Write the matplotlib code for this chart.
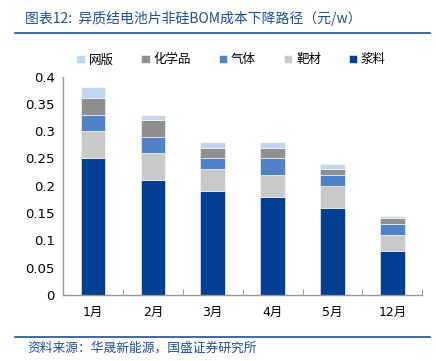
import matplotlib.pyplot as plt
import numpy as np
from matplotlib.lines import Line2D

plt.rcParams['font.family'] = ['DejaVu Sans', 'Noto Sans CJK SC']

months = ["1月", "2月", "3月", "4月", "5月", "12月"]
slurry = [0.25, 0.21, 0.19, 0.18, 0.16, 0.08]     # 浆料
target = [0.05, 0.05, 0.04, 0.04, 0.04, 0.03]     # 靶材
gas = [0.03, 0.03, 0.02, 0.03, 0.02, 0.02]        # 气体
chemical = [0.03, 0.03, 0.02, 0.02, 0.01, 0.01]   # 化学品
screen = [0.02, 0.01, 0.01, 0.01, 0.01, 0.005]    # 网版

series = [
    ("浆料", slurry, "#003f94"),
    ("靶材", target, "#c9c9c9"),
    ("气体", gas, "#4f83c6"),
    ("化学品", chemical, "#8f8f8f"),
    ("网版", screen, "#c3d5ee"),
]

blue = "#1f4e9a"
fig = plt.figure(figsize=(4.36, 3.61), dpi=100)
ax = fig.add_axes([0.1445, 0.183, 0.824, 0.605])

x = np.arange(len(months))
bottom = np.zeros(len(months))
handles = {}
for name, vals, color in series:
    vals = np.array(vals)
    b = ax.bar(x, vals, width=0.41, bottom=bottom, color=color,
               edgecolor="white", linewidth=0.4, label=name)
    handles[name] = b
    bottom += vals

ax.set_xlim(-0.5, 5.5)
ax.set_ylim(0, 0.4)
ax.set_yticks(np.arange(0, 0.41, 0.05))
ax.set_yticklabels(["0", "0.05", "0.1", "0.15", "0.2", "0.25", "0.3", "0.35", "0.4"])
ax.set_xticks(x)
ax.set_xticklabels(months)
ax.set_xticks(np.arange(-0.5, 5.6, 1), minor=True)
ax.tick_params(axis="x", which="major", length=0, pad=8, labelsize=9)
ax.tick_params(axis="x", which="minor", length=4, direction="in", color="#888888")
ax.tick_params(axis="y", length=0, labelsize=9.5, pad=6)
for s in ["top", "right"]:
    ax.spines[s].set_visible(False)
ax.spines["left"].set_color("#999999")
ax.spines["bottom"].set_color("#999999")
ax.spines["left"].set_linewidth(1.0)
ax.spines["bottom"].set_linewidth(1.0)

order = ["网版", "化学品", "气体", "靶材", "浆料"]
fig.legend([handles[n] for n in order], order, loc="center", ncol=5,
           bbox_to_anchor=(0.53, 0.834), frameon=False,
           handlelength=0.7, handleheight=0.7, handletextpad=0.3,
           columnspacing=2.2, prop={'family': ['Noto Sans CJK SC'], 'size': 9})

fig.text(0.057, 0.95, "图表12:  异质结电池片非硅BOM成本下降路径（元/w）",
         color=blue, fontsize=10, family=['Noto Sans CJK SC', 'DejaVu Sans'],
         va="center", ha="left")
fig.add_artist(Line2D([0.034, 0.986], [0.908, 0.908], color=blue, lw=1.2,
                      transform=fig.transFigure))
fig.add_artist(Line2D([0.034, 0.986], [0.066, 0.066], color=blue, lw=1.2,
                      transform=fig.transFigure))
fig.text(0.062, 0.036, "资料来源：华晟新能源，国盛证券研究所",
         color=blue, fontsize=9.2, family=['Noto Sans CJK SC', 'DejaVu Sans'],
         va="center", ha="left")

fig.savefig("out.png", dpi=100)
